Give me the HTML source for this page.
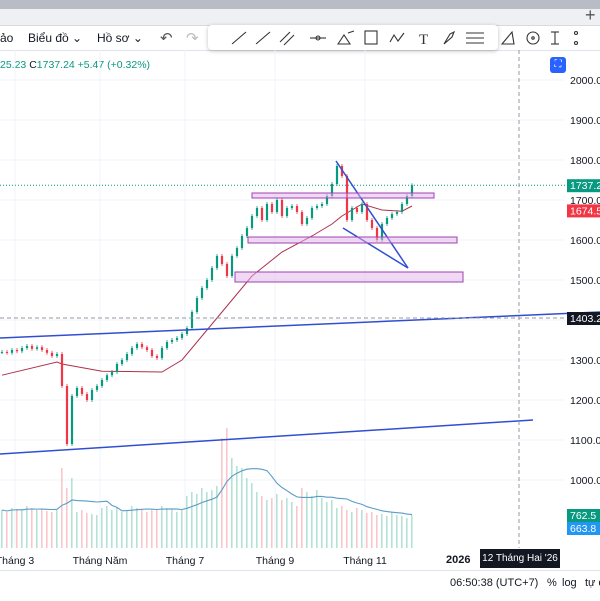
<!DOCTYPE html>
<html><head><meta charset="utf-8">
<style>
body{margin:0;width:600px;height:600px;overflow:hidden;background:#fff;font-family:"Liberation Sans","Noto Sans CJK SC",sans-serif;position:relative}
.abs{position:absolute}
.tb{font-size:12px;color:#131722;white-space:nowrap}
</style></head><body>
<div class="abs" style="left:0;top:0;width:600px;height:9px;background:#b8bcc4"></div>
<div class="abs" style="left:0;top:9px;width:600px;height:16px;background:#eef0f3;border-bottom:1px solid #d6d9de"></div>
<div class="abs tb" style="left:585px;top:5px;font-size:18px;color:#555">+</div>
<div class="abs" style="left:0;top:26px;width:600px;height:24px;background:#fff;border-bottom:1px solid #e0e3eb"></div>
<div class="abs tb" style="left:0;top:31px">ảo</div>
<div class="abs tb" style="left:28px;top:31px">Biểu đồ ⌄</div>
<div class="abs tb" style="left:97px;top:31px">Hồ sơ ⌄</div>
<div class="abs tb" style="left:160px;top:29px;font-size:15px;color:#555">↶</div>
<div class="abs tb" style="left:186px;top:29px;font-size:15px;color:#bbb">↷</div>
<div class="abs" style="left:208px;top:25px;width:290px;height:25px;background:#fff;border-radius:4px;box-shadow:0 1px 4px rgba(0,0,0,.25)">
<svg width="290" height="25" stroke="#333" fill="none" stroke-width="1.1">
<g><line x1="24" y1="19" x2="38" y2="7"/></g>
<g><line x1="48" y1="19" x2="62" y2="7"/></g>
<g><line x1="72" y1="17" x2="82" y2="7"/><line x1="76" y1="20" x2="86" y2="10"/></g>
<g><line x1="102" y1="13" x2="118" y2="13"/><circle cx="110" cy="13" r="2"/></g>
<g><path d="M130 19 L136 10 L142 19Z M140 8 L146 6"/></g>
<g><rect x="157" y="6" width="12" height="13"/></g>
<g><path d="M182 17 L186 10 L190 16 L196 8"/></g>
<g><text x="211" y="19" font-size="15" fill="#333" stroke="none" font-family="Liberation Serif">T</text></g>
<g><path d="M236 19 L242 9 L246 7 L244 12Z"/></g>
<g><line x1="258" y1="8" x2="276" y2="8"/><line x1="258" y1="13" x2="276" y2="13"/><line x1="258" y1="18" x2="276" y2="18"/></g>
</svg></div>
<svg class="abs" style="left:500px;top:25px" width="80" height="25" stroke="#333" fill="none" stroke-width="1.1">
<g><path d="M2 19 L12 7 L14 19Z"/></g>
<g><circle cx="33" cy="13" r="6"/><circle cx="33" cy="13" r="1.2"/></g>
<g><line x1="55" y1="7" x2="55" y2="19"/><line x1="51" y1="7" x2="59" y2="7"/><line x1="51" y1="19" x2="59" y2="19"/><circle cx="76" cy="8" r="1.5"/><circle cx="76" cy="18" r="1.5"/></g>
</svg>
<div class="abs" style="left:0;top:59px;font-size:10.5px;color:#089981;white-space:nowrap">25.23 <span style="color:#131722">C</span>1737.24 +5.47 (+0.32%)</div>
<div class="abs" style="left:550px;top:57px;width:16px;height:16px;background:#2962ff;border-radius:3px;color:#fff;font-size:10px;text-align:center;line-height:16px">⛶</div>

<svg id="chart" class="abs" style="left:0;top:0" width="600" height="600"></svg>

<div class="abs" style="left:446px;top:554px;font-size:11px;font-weight:bold;color:#131722">2026</div>
<div class="abs" style="left:480px;top:549px;width:80px;height:19px;background:#131722;color:#fff;font-size:10px;line-height:19px;text-align:center;white-space:nowrap;overflow:hidden">12 Tháng Hai '26</div>
<div class="abs" style="left:0;top:570px;width:600px;height:30px;border-top:1px solid #e0e3eb;background:#fff"></div>
<div class="abs" style="left:450px;top:577px;font-size:11px;color:#131722;white-space:nowrap">06:50:38 (UTC+7)</div>
<div class="abs" style="left:547px;top:577px;font-size:11px;color:#131722">%</div>
<div class="abs" style="left:562px;top:577px;font-size:11px;color:#131722">log</div>
<div class="abs" style="left:585px;top:577px;font-size:11px;color:#131722;white-space:nowrap">tự đ</div>

<script>
const closes=[1320,1318,1325,1322,1330,1335,1328,1332,1325,1318,1310,1315,
1235,1090,1210,1230,1215,1200,1225,1235,1250,1262,1270,1290,1300,1315,1330,1340,1332,1325,1310,1305,1330,1345,1350,1355,1365,1380,1420,1455,1480,1500,1530,1560,1540,1510,1560,1580,1610,1630,1660,1680,1650,1690,1670,1700,1660,1680,1685,1670,1640,1655,1680,1685,1690,1710,1740,1785,1760,1650,1680,1670,1690,1650,1630,1600,1640,1655,1665,1670,1690,1710,1737];
const volumes=[380,360,400,390,380,420,400,380,390,370,360,380,
800,600,700,360,380,350,340,330,400,420,380,400,360,380,420,400,380,360,380,390,420,400,380,360,380,520,560,540,600,560,580,620,1100,1200,900,820,800,700,650,560,520,480,500,540,480,500,460,420,600,560,520,580,500,460,480,400,420,380,360,400,380,350,360,330,340,320,360,330,320,300,330];
const priceTicks=[2000,1900,1800,1700,1600,1500,1300,1200,1100,1000];
const monthLabels=["Tháng 3","Tháng Năm","Tháng 7","Tháng 9","Tháng 11"];
const monthIdx=[1,18,35,53,71];
const maIdx=[0,11,12,20,32,36,42,46,50,56,62,66,68,72,76,80,82];
const maVal=[1262,1295,1290,1272,1270,1300,1390,1450,1510,1570,1610,1640,1660,1690,1675,1672,1685];
const volMaPeriod=10;

const svg=document.getElementById('chart');
const NS='http://www.w3.org/2000/svg';
const X=i=>2+i*5;
const Y=p=>80+(2000-p)*0.4;
const VY=v=>548-v*0.1;
function mk(tag,attrs){const e=document.createElementNS(NS,tag);for(const k in attrs)e.setAttribute(k,attrs[k]);svg.appendChild(e);return e;}

priceTicks.concat([1400]).forEach(p=>{const g=mk('line',{x1:0,x2:565,y1:Y(p),y2:Y(p),stroke:'#f0f3fa'});

});
monthIdx.forEach(i=>{const g=mk('line',{x1:X(i)+8,x2:X(i)+8,y1:50,y2:548,stroke:'#f0f3fa'});

});
volumes.forEach((v,i)=>{const up=closes[i]>=(i?closes[i-1]:closes[i]);
const b=mk('rect',{x:X(i)-1,y:VY(v),width:1.6,height:548-VY(v),fill:up?'#b5e2d6':'#f9c6cb'});

});
let vp=[];volumes.forEach((v,i)=>{const s=volumes.slice(Math.max(0,i-volMaPeriod+1),i+1);const m=s.reduce((a,b)=>a+b,0)/s.length;vp.push(X(i)+','+VY(m));});
const vl=mk('polyline',{points:vp.join(' '),fill:'none',stroke:'#5b9cc6','stroke-width':1.1});


const ml=mk('polyline',{points:maIdx.map((k,j)=>X(k)+','+Y(maVal[j])).join(' '),fill:'none',stroke:'#b0304a','stroke-width':1});


closes.forEach((c,i)=>{const o=i?closes[i-1]:c;const up=c>=o;const col=up?'#089981':'#f23645';
const hi=Math.max(o,c),lo=Math.min(o,c);
const w=mk('line',{x1:X(i),x2:X(i),y1:Y(hi)-2,y2:Y(lo)+2,stroke:col,'stroke-width':0.8});


const b=mk('rect',{x:X(i)-1.1,y:Y(hi),width:2.2,height:Math.max(1,Y(lo)-Y(hi)),fill:col});

});
const dr=[['trendline-upper',0,338,600,312],['trendline-lower',0,454,533,420],['wedge-upper',336,161,408,268],['wedge-lower',343,228,408,268]];
dr.forEach(d=>{const l=mk('line',{x1:d[1],y1:d[2],x2:d[3],y2:d[4],stroke:'#2f4fd0','stroke-width':1.5});

});
[[252,193,182,5],[248,237,209,6],[235,272,228,10]].forEach(r=>{const e=mk('rect',{x:r[0],y:r[1],width:r[2],height:r[3],fill:'rgba(225,180,235,0.5)',stroke:'#a040b0','stroke-width':1});

});
const lp=mk('line',{x1:0,x2:565,y1:Y(1737),y2:Y(1737),stroke:'#089981','stroke-dasharray':'1 2'});


const ch=mk('line',{x1:0,x2:565,y1:318,y2:318,stroke:'#9598a1','stroke-dasharray':'4 3'});


const cv=mk('line',{x1:519,x2:519,y1:50,y2:548,stroke:'#9598a1','stroke-dasharray':'4 3'});


priceTicks.forEach(p=>{const t=mk('text',{x:570,y:Y(p)+4,'font-size':10.5,fill:'#131722'});t.textContent=p+'.0';

});
monthLabels.forEach((m,j)=>{const t=mk('text',{x:X(monthIdx[j])+8,y:564,'font-size':10.5,fill:'#131722','text-anchor':'middle'});t.textContent=m;

});
[['last-price-label',Y(1737),'#089981','1737.24'],['ma-label',Y(1674),'#f23645','1674.5'],['crosshair-price-label',318,'#131722','1403.2'],['volume-label',515,'#089981','762.5'],['volume-ma-label',528,'#2196f3','663.8']].forEach(l=>{
const r=mk('rect',{x:567,y:l[1]-6,width:40,height:13,fill:l[2]});


const t=mk('text',{x:570,y:l[1]+4,'font-size':10.5,fill:'#fff'});t.textContent=l[3];

});
</script>
</body></html>
